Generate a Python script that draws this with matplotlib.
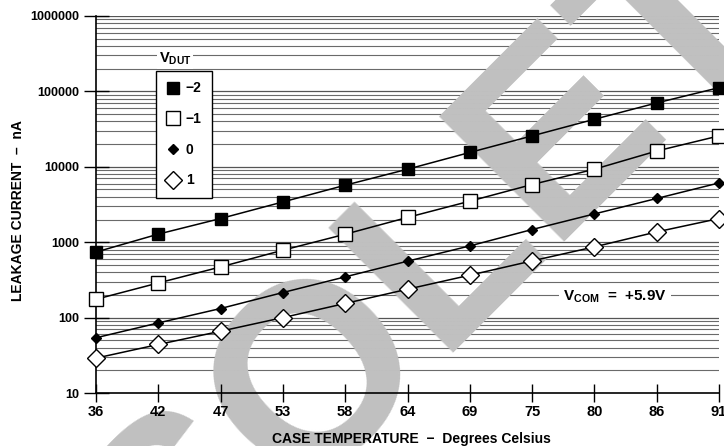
import matplotlib
matplotlib.use("Agg")
import matplotlib.pyplot as plt
from matplotlib.lines import Line2D
import numpy as np

plt.rcParams['font.family'] = ['Liberation Sans', 'DejaVu Sans']
plt.rcParams['mathtext.fontset'] = 'custom'
plt.rcParams['mathtext.rm'] = 'Liberation Sans'
plt.rcParams['mathtext.bf'] = 'Liberation Sans:bold'

temps = ['36', '42', '47', '53', '58', '64', '69', '75', '80', '86', '91']
v_minus2 = [740, 1280, 2060, 3420, 5700, 9290, 15500, 25700, 42700, 70300, 112000]
v_minus1 = [175, 288, 470, 783, 1276, 2130, 3500, 5820, 9290, 16200, 25700]
v_zero = [54, 85, 132, 215, 347, 560, 893, 1473, 2372, 3800, 6110]
v_plus1 = [29, 44, 66, 100, 154, 238, 365, 565, 867, 1370, 2060]
legend_labels = ['\u22122', '\u22121', '0', '1']
y_ticks = [10, 100, 1000, 10000, 100000, 1000000]

fig = plt.figure(figsize=(7.24, 4.46), dpi=100)
ax = fig.add_axes([96/724, 1-393/446, (719-96)/724, (393-16)/446])
x = np.arange(len(temps))

ax.set_yscale('log')
ax.set_ylim(10, 1000000)
ax.set_xlim(0, len(temps)-1)

# log grid drawn manually (behind watermark)
for dec in y_ticks[:-1]:
    for m in range(2, 10):
        ax.axhline(dec*m, color='#6a6a6a', lw=0.8, zorder=0.5)
for dec in y_ticks[1:]:
    ax.axhline(dec, color='#555555', lw=0.9, zorder=0.5)

# watermark
ax.text(404/724, 1-392/446, 'OBSOLETE', transform=fig.transFigure, rotation=45,
        rotation_mode='anchor', ha='center', va='baseline', fontsize=185,
        fontweight='bold', color='#c0c0c0', zorder=1, clip_on=False)

ax.plot(x, v_minus2, color='black', lw=1.1, marker='s', ms=8, mfc='black', mec='black', zorder=3, clip_on=False)
ax.plot(x, v_minus1, color='black', lw=1.1, marker='s', ms=10, mfc='white', mec='black', mew=1.0, zorder=3, clip_on=False)
ax.plot(x, v_zero, color='black', lw=1.1, marker='D', ms=5.5, mfc='black', mec='black', zorder=3, clip_on=False)
ax.plot(x, v_plus1, color='black', lw=1.1, marker='D', ms=9, mfc='white', mec='black', mew=1.0, zorder=3, clip_on=False)

ax.set_xticks(x)
ax.set_xticklabels(temps, fontsize=10.5, fontweight='bold')
ax.set_yticks(y_ticks)
ax.set_yticklabels([str(v) for v in y_ticks], fontsize=9, fontweight='bold')
ax.yaxis.set_minor_locator(matplotlib.ticker.NullLocator())
ax.tick_params(axis='y', direction='inout', length=18, width=1, pad=3)
ax.tick_params(axis='x', direction='inout', length=13, width=1, pad=2)
for s in ['top', 'right']:
    ax.spines[s].set_visible(False)
for s in ['left', 'bottom']:
    ax.spines[s].set_linewidth(1.2)

ax.set_xlabel('CASE TEMPERATURE  \u2212  Degrees Celsius', fontsize=10, fontweight='bold')
ax.xaxis.set_label_coords((411-96)/623, -(432-393)/377)
ax.set_ylabel('LEAKAGE CURRENT  \u2013  nA', fontsize=10, fontweight='bold')
ax.yaxis.set_label_coords((25-96)/623, 1-(211-16)/377)

handles = [
    Line2D([], [], linestyle='none', marker='s', ms=8, mfc='black', mec='black'),
    Line2D([], [], linestyle='none', marker='s', ms=10, mfc='white', mec='black'),
    Line2D([], [], linestyle='none', marker='D', ms=5.5, mfc='black', mec='black'),
    Line2D([], [], linestyle='none', marker='D', ms=9, mfc='white', mec='black'),
]
leg = ax.legend(handles, legend_labels, loc='upper left', bbox_to_anchor=(156/724, 1-71/446),
                bbox_transform=fig.transFigure, frameon=True, fancybox=False, edgecolor='black',
                framealpha=1, borderpad=0.75, labelspacing=1.2, handlelength=1.0, handletextpad=0.4,
                borderaxespad=0, prop={'weight': 'bold', 'size': 10})
leg.get_frame().set_linewidth(1.0)
leg.set_zorder(6)

ax.text(175/724, 1-59/446, r'$\mathbf{V_{DUT}}$', transform=fig.transFigure, ha='center', va='center',
        fontsize=10.5, zorder=6, bbox=dict(facecolor='white', edgecolor='none', pad=1))
ax.text(615/724, 1-297/446, r'$\mathbf{V_{COM}}$  =  +5.9V', transform=fig.transFigure, ha='center',
        va='center', fontsize=11, fontweight='bold', zorder=6,
        bbox=dict(facecolor='white', edgecolor='none', pad=3))

fig.savefig('out.png', dpi=100)
